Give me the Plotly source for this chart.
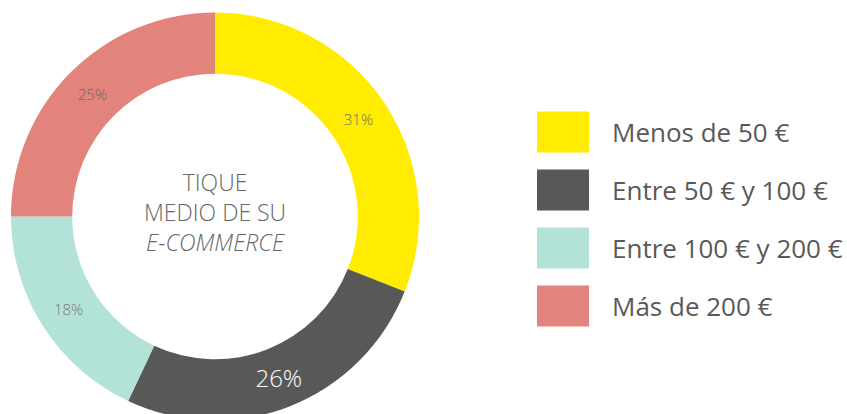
import plotly.graph_objects as go

# Ticket medio del e-commerce
categorias = ["Menos de 50 €", "Entre 50 € y 100 €", "Entre 100 € y 200 €", "Más de 200 €"]
porcentajes = [31, 26, 18, 25]
colores = ["#FFEC00", "#585856", "#B3E3D8", "#E2847B"]
color_etiquetas = ["#6b6b6b", "#ffffff", "#777777", "#6b6b6b"]
tam_etiquetas = [15, 24, 15, 15]

W, H = 847, 421  # a little taller than the window so the ring is cut at the bottom
FUENTE = "Open Sans"

fig = go.Figure()

fig.add_trace(go.Pie(
    labels=categorias,
    values=porcentajes,
    sort=False,
    direction="clockwise",
    rotation=0,
    hole=0.70,
    marker=dict(colors=colores, line=dict(width=0)),
    textinfo="percent",
    textposition="inside",
    insidetextorientation="horizontal",
    textfont=dict(family=FUENTE, size=tam_etiquetas, color=color_etiquetas, weight=300),
    domain=dict(x=[11 / W, 419 / W], y=[0.5 / H, 408.5 / H]),
    showlegend=False,
    hoverinfo="label+percent",
))

# texto central
fig.add_annotation(
    x=215 / W, y=1 - 212 / H, xref="paper", yref="paper",
    xanchor="center", yanchor="middle",
    text="TIQUE<br>MEDIO DE SU<br><i>E-COMMERCE</i>",
    showarrow=False, align="center",
    font=dict(family=FUENTE, size=23, color="#666666", weight=300),
)

# leyenda a mano (cuadros grandes)
for i, (cat, col) in enumerate(zip(categorias, colores)):
    yc = 132 + i * 58
    fig.add_shape(
        type="rect", xref="paper", yref="paper",
        x0=537 / W, x1=589 / W,
        y0=1 - (yc + 20.5) / H, y1=1 - (yc - 20.5) / H,
        fillcolor=col, line=dict(width=0),
    )
    fig.add_annotation(
        x=610 / W, y=1 - yc / H, xref="paper", yref="paper",
        text=cat, showarrow=False, xanchor="left", yanchor="middle",
        font=dict(family=FUENTE, size=26, color="#595959"),
    )

fig.update_layout(
    width=W, height=H,
    margin=dict(l=0, r=0, t=0, b=0),
    paper_bgcolor="white",
    plot_bgcolor="white",
)

fig.write_html(
    "out.html",
    config={"displayModeBar": False},
    post_script="document.body.style.margin='0';document.body.style.overflow='hidden';"
                "document.documentElement.style.overflow='hidden';",
)
